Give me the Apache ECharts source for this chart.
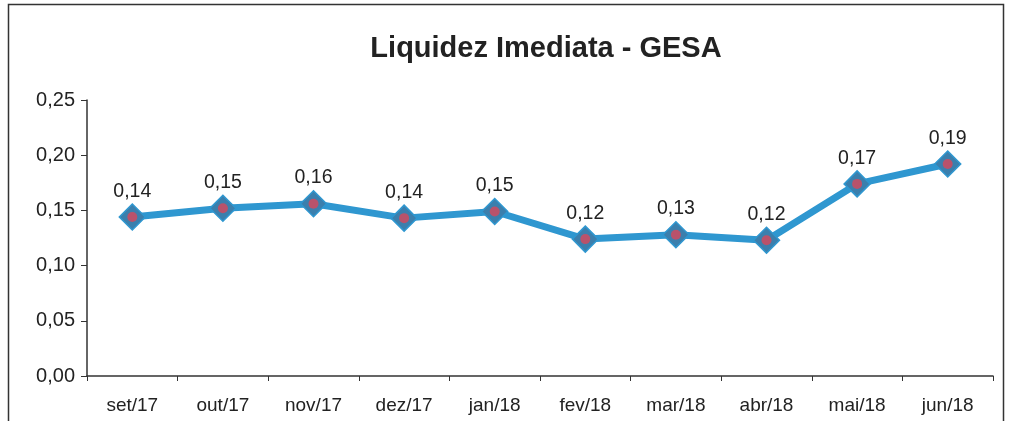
<!DOCTYPE html>
<html><head><meta charset="utf-8">
<script src="https://cdn.jsdelivr.net/npm/echarts@6/dist/echarts.min.js"></script>
<style>html,body{margin:0;padding:0;background:#fff}#c{width:1011px;height:421px}</style>
</head><body><div id="c"></div>
<script>
const categories = ['set/17','out/17','nov/17','dez/17','jan/18','fev/18','mar/18','abr/18','mai/18','jun/18'];
const values = [0.144, 0.152, 0.156, 0.143, 0.149, 0.124, 0.128, 0.123, 0.174, 0.192];
const yTicks = [0, 0.05, 0.10, 0.15, 0.20, 0.25];
const fmt = v => v.toFixed(2).replace('.', ',');
const chart = echarts.init(document.getElementById('c'), null, {renderer:'canvas'});
chart.setOption({
  animation:false,
  backgroundColor:'#fff',
  title:{text:'Liquidez Imediata - GESA', left:541, top:29, textAlign:'center',
    textStyle:{fontFamily:'Liberation Sans, Arial', fontWeight:'bold', fontSize:29, color:'#222'}},
  graphic:[{type:'rect', shape:{x:8.5, y:4.5, width:995, height:430}, style:{fill:'none', stroke:'#333', lineWidth:1.5}}],
  grid:{left:87, right:18, top:100, bottom:45},
  xAxis:{type:'category', data:categories, boundaryGap:true,
    axisLine:{lineStyle:{color:'#333', width:1.5}},
    axisTick:{show:true, alignWithLabel:false, length:5, lineStyle:{color:'#333'}},
    axisLabel:{color:'#222', fontSize:19, fontFamily:'Liberation Sans, Arial', margin:20}},
  yAxis:{type:'value', min:0, max:0.25, interval:0.05,
    axisLine:{show:true, lineStyle:{color:'#333', width:1.5}},
    axisTick:{show:true, length:6, lineStyle:{color:'#333'}},
    splitLine:{show:false},
    axisLabel:{color:'#222', fontSize:20, fontFamily:'Liberation Sans, Arial', margin:12,
      formatter: v => fmt(v)}},
  series:[{
    type:'line', data:values, symbol:'diamond', symbolSize:26,
    lineStyle:{color:'#2f97d0', width:7},
    itemStyle:{color:'#3b7fad', borderColor:'#2f97d0', borderWidth:1.5},
    label:{show:true, position:'top', distance:2, color:'#222', fontSize:19.5,
      fontFamily:'Liberation Sans, Arial', formatter: p => fmt(p.value)}
  },{
    type:'scatter', data:values, symbol:'circle', symbolSize:10,
    itemStyle:{color:'#d9475a'}, z:5, silent:true
  }]
});
</script></body></html>
